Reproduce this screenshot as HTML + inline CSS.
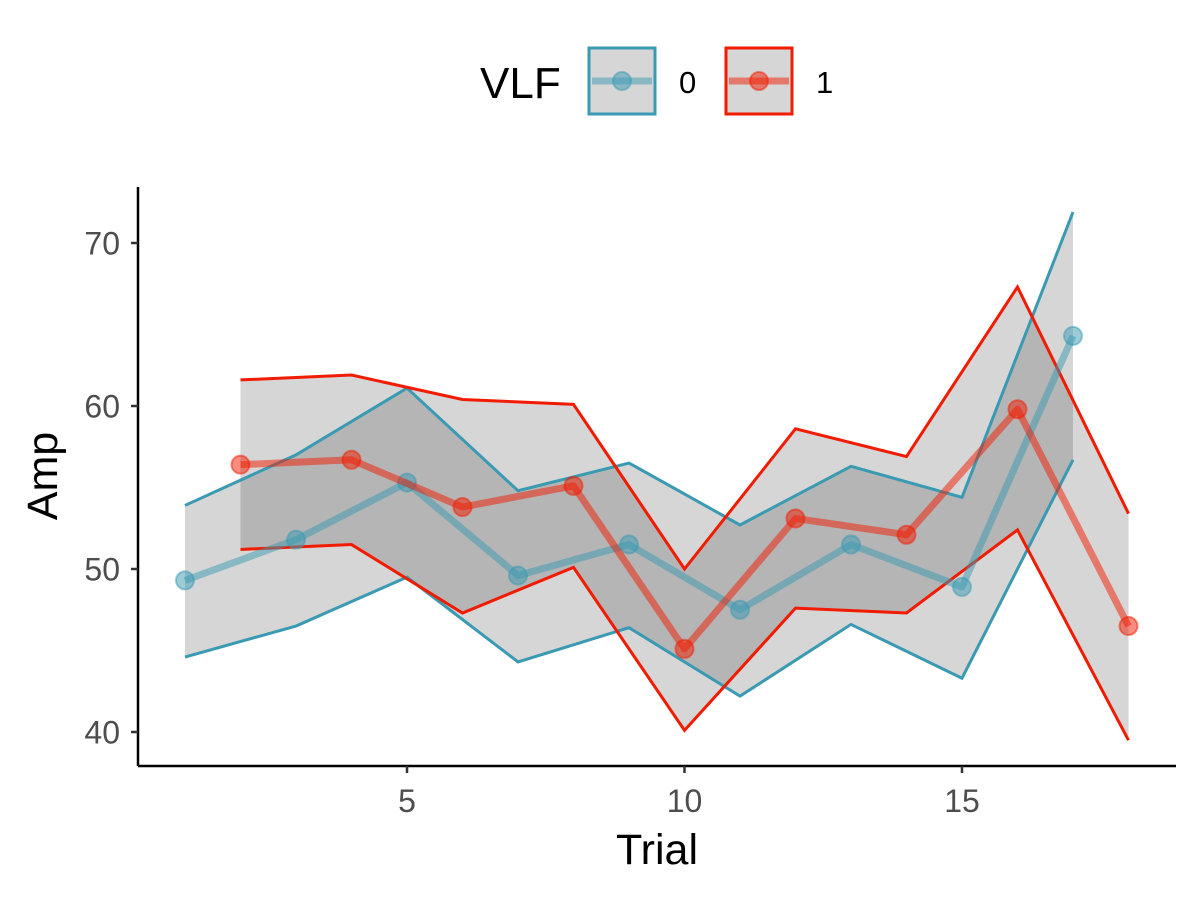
<!DOCTYPE html>
<html><head><meta charset="utf-8"><style>
body{margin:0;background:#fff;}
svg{font-family:"Liberation Sans",sans-serif;display:block}
</style></head><body>
<svg id="chart" width="1200" height="900" viewBox="0 0 1200 900" xmlns="http://www.w3.org/2000/svg">
<g id="plot"></g>
<g id="axes">
<line x1="138" y1="187" x2="138" y2="766" stroke="#000" stroke-width="2.5"/>
<line x1="138" y1="766" x2="1176" y2="766" stroke="#000" stroke-width="2.5"/>
</g>
<text x="657" y="864" font-size="43" text-anchor="middle">Trial</text>
<text transform="translate(57,476) rotate(-90)" font-size="43" text-anchor="middle">Amp</text>
<g>
<text x="480" y="98" font-size="44">VLF</text>
<g>
<rect x="589" y="48" width="66" height="66" fill="#d6d6d6" stroke="#3a9ab2" stroke-width="3"/>
<line x1="592" y1="81" x2="652" y2="81" stroke="#3a9ab2" stroke-opacity="0.5" stroke-width="7"/>
<circle cx="622" cy="81" r="9" fill="#3a9ab2" fill-opacity="0.5" stroke="#3a9ab2" stroke-opacity="0.5" stroke-width="2"/>
<text x="679" y="93" font-size="31">0</text>
</g>
<g>
<rect x="726" y="48" width="66" height="66" fill="#d6d6d6" stroke="#f11b00" stroke-width="3"/>
<line x1="729" y1="81" x2="789" y2="81" stroke="#f11b00" stroke-opacity="0.5" stroke-width="7"/>
<circle cx="759" cy="81" r="9" fill="#f11b00" fill-opacity="0.5" stroke="#f11b00" stroke-opacity="0.5" stroke-width="2"/>
<text x="816" y="93" font-size="31">1</text>
</g>
</g>
</svg>
<script>
const trials0 = [1,3,5,7,9,11,13,15,17];
const mean0 = [49.3,51.8,55.3,49.6,51.5,47.5,51.5,48.9,64.3];
const upper0 = [53.9,57.0,61.1,54.8,56.5,52.7,56.3,54.4,71.9];
const lower0 = [44.6,46.5,49.5,44.3,46.4,42.2,46.6,43.3,56.7];
const trials1 = [2,4,6,8,10,12,14,16,18];
const mean1 = [56.4,56.7,53.8,55.1,45.1,53.1,52.1,59.8,46.5];
const upper1 = [61.6,61.9,60.4,60.1,50.0,58.6,56.9,67.3,53.4];
const lower1 = [51.2,51.5,47.3,50.1,40.1,47.6,47.3,52.4,39.5];
const xTicks = [5,10,15];
const yTicks = [40,50,60,70];

const NS = "http://www.w3.org/2000/svg";
const X = v => 407 + (v - 5) * 55.5;
const Y = v => 569 - (v - 50) * 16.3;
const plot = document.getElementById('plot');
const axes = document.getElementById('axes');
function mk(tag, attrs, parent){const e=document.createElementNS(NS,tag);for(const k in attrs)e.setAttribute(k,attrs[k]);parent.appendChild(e);return e;}
function pts(xs, ys){return xs.map((x,i)=>X(x)+','+Y(ys[i])).join(' ');}

const series = [
 {name:'0', xs:trials0, m:mean0, u:upper0, l:lower0, c:'#3a9ab2'},
 {name:'1', xs:trials1, m:mean1, u:upper1, l:lower1, c:'#f11b00'}
];
series.forEach(s=>{
  const rib = mk('polygon',{points:pts(s.xs,s.u)+' '+pts(s.xs.slice().reverse(), s.l.slice().reverse()), fill:'#333', 'fill-opacity':'0.2'}, plot);
  
  
});
series.forEach(s=>{
  const up = mk('polyline',{points:pts(s.xs,s.u), fill:'none', stroke:s.c, 'stroke-width':3}, plot);
  
  
  const lo = mk('polyline',{points:pts(s.xs,s.l), fill:'none', stroke:s.c, 'stroke-width':3}, plot);
  
  
});
series.forEach(s=>{
  const ml = mk('polyline',{points:pts(s.xs,s.m), fill:'none', stroke:s.c, 'stroke-opacity':0.5, 'stroke-width':7, 'stroke-linejoin':'round'}, plot);
  
  
  s.xs.forEach((x,i)=>{
    const c = mk('circle',{cx:X(x), cy:Y(s.m[i]), r:9, fill:s.c, 'fill-opacity':0.5, stroke:s.c, 'stroke-opacity':0.5, 'stroke-width':2}, plot);
    
    
  });
});
xTicks.forEach(t=>{
  const l = mk('line',{x1:X(t),x2:X(t),y1:766,y2:773,stroke:'#333','stroke-width':2.5}, axes);
  
  
  const tx = mk('text',{x:X(t), y:812, 'font-size':32, fill:'#4d4d4d', 'text-anchor':'middle'}, axes);
  tx.textContent = t;
  
  
});
yTicks.forEach(t=>{
  const l = mk('line',{x1:131,x2:138,y1:Y(t),y2:Y(t),stroke:'#333','stroke-width':2.5}, axes);
  
  
  const tx = mk('text',{x:120, y:Y(t)+11.5, 'font-size':32, fill:'#4d4d4d', 'text-anchor':'end'}, axes);
  tx.textContent = t;
  
  
});
</script>
</body></html>
